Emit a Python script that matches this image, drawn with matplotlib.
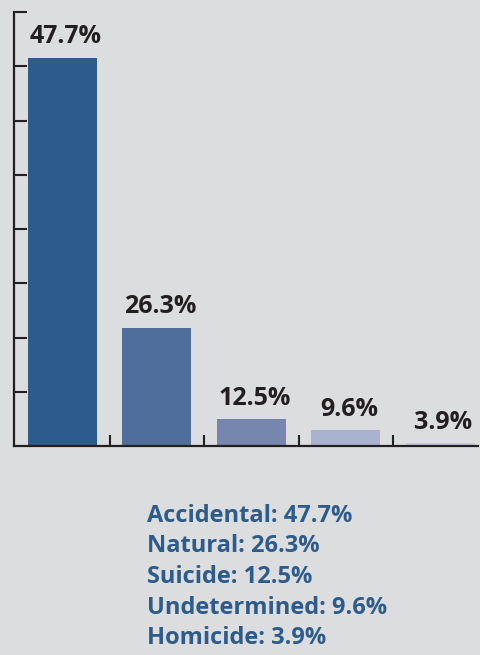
import numpy as np
import matplotlib
matplotlib.use("Agg")
import matplotlib.pyplot as plt
from matplotlib.ticker import FixedLocator

categories = ["Accidental", "Natural", "Suicide", "Undetermined", "Homicide"]
values = [47.7, 26.3, 12.5, 9.6, 3.9]
bar_colors = ["#2d5b8b", "#506e9a", "#7686ae", "#a9b3cf", "#c3c9de"]

BG = "#dcdddf"
DARK = "#231f20"
BLUE = "#2d5b8b"
FONT = ["Open Sans", "DejaVu Sans"]
plt.rcParams["font.family"] = FONT

W, H = 481, 655
fig = plt.figure(figsize=(W / 100, H / 100), dpi=100, facecolor=BG)

# axes in pixel coordinates
left, right, top, base = 14, 478, 12, 446
ax = fig.add_axes([left / W, 1 - base / H, (right - left) / W, (base - top) / H])
ax.set_facecolor(BG)

# the reference uses a compressed (roughly quadratic) vertical scale
p = 2.0
ax.set_yscale("function", functions=(lambda v: np.sign(v) * np.abs(v) ** p,
                                     lambda v: np.sign(v) * np.abs(v) ** (1 / p)))
ymax = 50.45
ax.set_ylim(0, ymax)
ax.set_xlim(-0.513, 4.397)

x = np.arange(len(values))
ax.bar(x, values, width=0.73, color=bar_colors, zorder=2)

for xi, v in zip(x, values):
    ax.annotate(f"{v}%", (xi, v), xytext=(2, 10.5), textcoords="offset points",
                ha="center", va="baseline", fontsize=18, fontweight="bold", color=DARK)

for s in ["top", "right"]:
    ax.spines[s].set_visible(False)
for s in ["left", "bottom"]:
    ax.spines[s].set_color(DARK)
    ax.spines[s].set_linewidth(1.6)

yt = [ymax * np.sqrt(k / 8) for k in range(1, 9)]
ax.yaxis.set_major_locator(FixedLocator(yt))
ax.set_yticklabels([])
ax.tick_params(axis="y", direction="in", length=9, width=1.5, color=DARK)
ax.xaxis.set_major_locator(FixedLocator([0.5, 1.5, 2.5, 3.5]))
ax.set_xticklabels([])
ax.tick_params(axis="x", direction="in", length=8, width=1.5, color=DARK)

# legend-like text block
y0 = 522
for i, (c, v) in enumerate(zip(categories, values)):
    fig.text(147 / W, 1 - (y0 + i * 30.5) / H, f"{c}: {v}%", ha="left", va="baseline",
             fontsize=17, fontweight="bold", color=BLUE)

fig.savefig("out.png", dpi=100, facecolor=BG)
